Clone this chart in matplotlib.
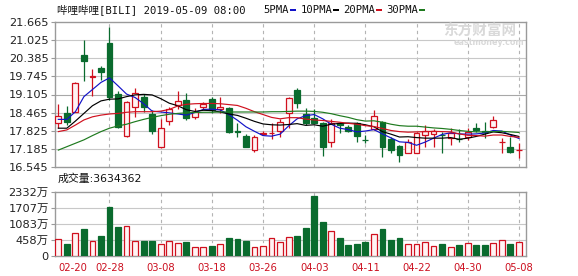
import matplotlib
matplotlib.use('Agg')
import matplotlib.pyplot as plt
from matplotlib.patches import Rectangle

plt.rcParams['font.family'] = ['DejaVu Sans', 'Noto Sans CJK SC']

# ---------------- data ----------------
opens = [18.09, 18.46, 18.50, 20.49, 19.71, 20.03, 20.90, 19.12, 17.66, 18.68,
         19.03, 18.42, 17.27, 18.17, 18.74, 18.91, 18.32, 18.65, 18.95, 18.58,
         18.62, 17.82, 17.65, 17.15, 17.72, 17.74, 17.83, 18.44, 19.26, 18.42,
         18.27, 18.09, 17.45, 18.09, 17.97, 18.09, 17.52, 17.88, 18.15, 17.54,
         17.29, 17.06, 17.06, 17.68, 17.72, 17.69, 17.57, 17.55, 17.62, 17.92,
         17.81, 17.95, 17.44, 17.27, 17.14]
highs = [18.76, 18.71, 19.56, 21.02, 20.00, 20.10, 21.49, 19.23, 18.88, 19.34,
         19.11, 18.56, 18.24, 18.66, 19.24, 19.15, 18.62, 18.85, 19.01, 19.01,
         18.68, 18.09, 17.72, 17.68, 17.83, 18.09, 18.23, 19.01, 19.33, 18.62,
         18.58, 18.15, 18.23, 18.15, 18.03, 18.15, 17.68, 18.56, 18.18, 17.62,
         17.33, 17.54, 17.80, 18.03, 17.89, 17.80, 17.92, 17.88, 17.92, 18.09,
         18.15, 18.35, 17.59, 17.62, 17.39]
lows = [17.93, 18.03, 18.50, 19.58, 19.06, 19.62, 18.91, 17.92, 17.62, 18.32,
        18.50, 17.71, 17.21, 18.03, 18.58, 18.21, 18.23, 18.58, 18.46, 18.46,
        17.74, 17.60, 17.25, 17.09, 17.68, 17.54, 17.60, 17.92, 18.62, 18.03,
        18.09, 16.94, 17.27, 17.76, 17.80, 17.45, 17.39, 17.86, 16.92, 17.04,
        16.74, 17.04, 17.04, 17.27, 17.27, 17.06, 17.33, 17.45, 17.50, 17.80,
        17.57, 17.92, 17.06, 17.04, 16.86]
closes = [18.35, 18.13, 19.50, 20.29, 19.75, 19.89, 19.03, 17.97, 18.83, 19.15,
          18.68, 17.83, 17.94, 18.59, 18.89, 18.27, 18.50, 18.77, 18.56, 18.65,
          17.80, 17.79, 17.27, 17.60, 17.75, 17.76, 18.13, 18.97, 18.82, 18.09,
          18.11, 17.27, 18.09, 18.04, 17.83, 17.65, 17.50, 18.35, 17.25, 17.15,
          16.98, 17.45, 17.74, 17.83, 17.83, 17.67, 17.74, 17.53, 17.80, 17.86,
          17.79, 18.21, 17.45, 17.09, 17.16]
volumes = [510, 289, 744, 874, 432, 601, 1733, 952, 1017, 432,
           406, 406, 315, 432, 328, 367, 171, 197, 210, 315,
           523, 484, 406, 171, 236, 523, 367, 588, 601, 913,
           2163, 1148, 796, 523, 263, 289, 380, 705, 874, 445,
           523, 315, 289, 393, 210, 289, 197, 250, 354, 250,
           250, 328, 471, 289, 363]  # in 万
ma5 = [18.23, 18.23, 18.50, 19.03, 19.28, 19.53, 19.69, 19.41, 19.12, 19.00,
       18.78, 18.52, 18.49, 18.46, 18.42, 18.38, 18.47, 18.58, 18.59, 18.56,
       18.40, 18.20, 17.97, 17.81, 17.66, 17.64, 17.71, 18.00, 18.25, 18.36,
       18.40, 18.25, 18.06, 17.92, 17.87, 17.79, 17.82, 17.87, 17.72, 17.58,
       17.44, 17.42, 17.32, 17.43, 17.57, 17.70, 17.76, 17.72, 17.71, 17.72,
       17.75, 17.84, 17.82, 17.68, 17.56]
ma10 = [17.92, 17.92, 18.17, 18.44, 18.71, 18.88, 18.94, 18.95, 19.03, 19.09,
        19.11, 19.09, 18.96, 18.80, 18.71, 18.57, 18.51, 18.55, 18.54, 18.49,
        18.42, 18.37, 18.27, 18.16, 18.07, 18.04, 18.03, 18.05, 18.08, 18.02,
        18.04, 17.99, 18.06, 18.09, 18.10, 18.09, 18.04, 17.97, 17.80, 17.71,
        17.61, 17.62, 17.59, 17.57, 17.57, 17.57, 17.59, 17.53, 17.57, 17.63,
        17.71, 17.79, 17.76, 17.70, 17.63]
ma20 = [17.80, 17.86, 18.03, 18.21, 18.32, 18.38, 18.42, 18.44, 18.48, 18.50,
        18.50, 18.50, 18.52, 18.58, 18.70, 18.76, 18.78, 18.79, 18.79, 18.78,
        18.75, 18.72, 18.62, 18.50, 18.40, 18.30, 18.25, 18.29, 18.29, 18.24,
        18.21, 18.19, 18.16, 18.13, 18.09, 18.06, 18.01, 17.98, 17.91, 17.84,
        17.80, 17.78, 17.79, 17.80, 17.81, 17.80, 17.79, 17.72, 17.67, 17.66,
        17.64, 17.68, 17.68, 17.63, 17.60]
ma30 = [17.15, 17.27, 17.39, 17.51, 17.66, 17.80, 17.92, 18.00, 18.06, 18.15,
        18.23, 18.30, 18.36, 18.41, 18.44, 18.46, 18.47, 18.48, 18.48, 18.49,
        18.49, 18.49, 18.49, 18.49, 18.49, 18.50, 18.50, 18.51, 18.52, 18.52,
        18.51, 18.48, 18.43, 18.36, 18.30, 18.22, 18.17, 18.18, 18.13, 18.06,
        18.01, 17.99, 17.99, 17.96, 17.93, 17.91, 17.88, 17.84, 17.81, 17.79,
        17.79, 17.80, 17.81, 17.79, 17.77]
price_ticks = [16.545, 17.185, 17.825, 18.465, 19.105, 19.745, 20.385, 21.025, 21.665]
vol_ticks = [-167, 458, 1083, 1707, 2332]
vol_tick_labels = ['0', '458万', '1083万', '1707万', '2332万']
date_idx = [0, 6, 12, 18, 24, 30, 36, 42, 48, 54]
date_labels = ['02-20', '02-28', '03-08', '03-18', '03-26',
               '04-03', '04-11', '04-22', '04-30', '05-08']
title_text = '哔哩哔哩[BILI] 2019-05-09 08:00'
ma_names = ['5PMA', '10PMA', '20PMA', '30PMA']
vol_text = '成交量:3634362'

# ---------------- style ----------------
RED = '#D0101E'
GREEN = '#0A6B2E'
RED_FILL = '#FFF4F4'
MA_COLORS = ['#1212C8', '#000000', '#D0101E', '#1E7A1E']
GRID = '#C8C8C8'
FRAME = '#9A9A9A'
W, H = 578, 276

fig = plt.figure(figsize=(W / 100, H / 100), dpi=100)
fig.patch.set_facecolor('white')

def fx(px):
    return px / W

def fy(py):
    return 1 - py / H

ax = fig.add_axes([fx(55), fy(167.3), fx(525.7) - fx(55), fy(21.7) - fy(167.3)])
axv = fig.add_axes([fx(55), fy(256), fx(525.7) - fx(55), fy(191.7) - fy(256)])

n = len(closes)
xs = list(range(n))
bw = 0.68

for a in (ax, axv):
    a.set_xlim(-0.39, 54.8)
    for s in a.spines.values():
        s.set_color(FRAME)
        s.set_linewidth(1.0)
    for d in date_idx[1:]:
        a.axvline(d, color='#B4B4B4', lw=0.8, ls=(0, (3, 3)), zorder=0)
    a.tick_params(axis='y', length=3, width=0.8, color=FRAME, pad=1.5,
                  labelsize=8.2, labelcolor='#222222')

# price panel
ax.set_ylim(price_ticks[0], price_ticks[-1])
ax.set_yticks(price_ticks)
ax.set_yticklabels([f'{t:.3f}' for t in price_ticks])
for t in price_ticks[1:-1]:
    ax.axhline(t, color='#A8A8A8' if abs(t - 19.105) < 1e-6 else GRID, lw=0.8, zorder=0)
ax.set_xticks([])

for i in xs:
    o, h, l, c = opens[i], highs[i], lows[i], closes[i]
    up = c >= o
    col = RED if up else GREEN
    lo_b, hi_b = min(o, c), max(o, c)
    ax.plot([i, i], [l, lo_b], color=col, lw=0.9, zorder=2, solid_capstyle='butt')
    ax.plot([i, i], [hi_b, h], color=col, lw=0.9, zorder=2, solid_capstyle='butt')
    hgt = max(hi_b - lo_b, 0.006)
    ax.add_patch(Rectangle((i - bw / 2, lo_b), bw, hgt,
                           facecolor=RED_FILL if up else GREEN,
                           edgecolor=col, lw=0.9, zorder=3))

for vals, colr in zip([ma5, ma10, ma20, ma30], MA_COLORS):
    ax.plot(xs, vals, color=colr, lw=0.85, zorder=4)

# volume panel
axv.set_ylim(vol_ticks[0], vol_ticks[-1])
axv.set_yticks(vol_ticks)
axv.set_yticklabels(vol_tick_labels)
for t in vol_ticks[1:-1]:
    axv.axhline(t, color=GRID, lw=0.8, zorder=0)
for i in xs:
    up = closes[i] >= opens[i]
    axv.bar(i, volumes[i] - vol_ticks[0], bottom=vol_ticks[0], width=bw,
            facecolor=RED_FILL if up else GREEN,
            edgecolor=RED if up else GREEN, lw=0.9, zorder=3)
axv.set_xticks(date_idx)
axv.set_xticklabels(date_labels)
axv.tick_params(axis='x', length=0, pad=5, labelsize=7.2, labelcolor='#CC1020')
lbls = axv.get_xticklabels()
lbls[0].set_horizontalalignment('left')
lbls[-1].set_horizontalalignment('center')

# header texts
mono = ['DejaVu Sans Mono', 'Noto Sans CJK SC']
fig.text(fx(57), fy(10), title_text, fontsize=7.6, family=mono, va='center',
         ha='left', color='#111111')
name_x = [263, 300.7, 343, 386.7]
dash_x = [290, 333, 376, 419]
for nm, x0, dx, colr in zip(ma_names, name_x, dash_x, MA_COLORS):
    fig.text(fx(x0), fy(10), nm, fontsize=7.6, family=mono, va='center',
             ha='left', color='#111111')
    fig.add_artist(Rectangle((fx(dx), fy(11.3)), fx(6), 2.6 / H,
                             transform=fig.transFigure, facecolor=colr,
                             edgecolor='none'))

# watermark
fig.text(fx(480), fy(31), '东方财富网', fontsize=10.5, fontweight='bold',
         color='#D9D9D9', ha='center', va='center', family=['Noto Sans CJK SC'])
fig.text(fx(489), fy(42.5), 'eastmoney.com', fontsize=5.8, fontweight='bold',
         color='#D9D9D9', ha='center', va='center')

fig.text(fx(58), fy(178.5), vol_text, fontsize=7.8, va='center', ha='left',
         color='#111111')

fig.savefig('out.png', dpi=100, facecolor='white')
